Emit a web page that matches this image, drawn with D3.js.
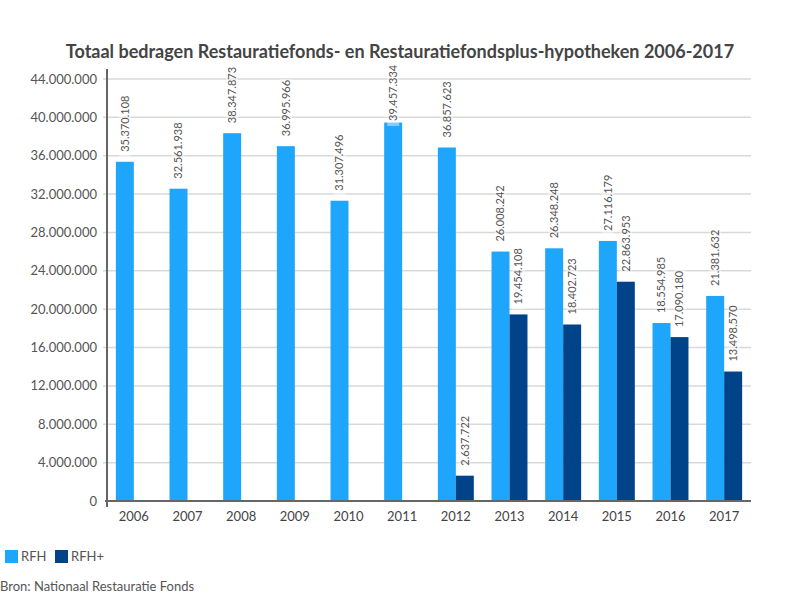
<!DOCTYPE html>
<html><head><meta charset="utf-8">
<script src="https://cdn.jsdelivr.net/npm/d3@7"></script>
<style>body{margin:0;background:#fff;} svg{display:block;font-family:Lato, sans-serif;}</style>
</head><body>
<svg id="c" width="800" height="600"></svg>
<script>
const years = ["2006","2007","2008","2009","2010","2011","2012","2013","2014","2015","2016","2017"];
const rfh = [35370108,32561938,38347873,36995966,31307496,39457334,36857623,26008242,26348248,27116179,18554985,21381632];
const rfhPlus = [null,null,null,null,null,null,2637722,19454108,18402723,22863953,17090180,13498570];
const yTicks = [0,4000000,8000000,12000000,16000000,20000000,24000000,28000000,32000000,36000000,40000000,44000000];
const seriesNames = ["RFH","RFH+"];
const colors = ["#1ea5fc","#004388"];

const svg = d3.select("#c");
const m = {left:107, right:751, top:79, bottom:501};
const x = d3.scaleBand().domain(years).range([m.left,m.right]).paddingInner(0.33).paddingOuter(0.165);
const xs = d3.scaleBand().domain(seriesNames).range([0,x.bandwidth()]);
const y = d3.scaleLinear().domain([0,44000000]).range([m.bottom,m.top]);
const fmt = v => d3.format(",")(v).replace(/,/g,".");

// title
svg.append("text").attr("x",400).attr("y",58).attr("text-anchor","middle")
  .attr("font-size",18).attr("font-weight","bold").attr("fill","#444")
  .text("Totaal bedragen Restauratiefonds- en Restauratiefondsplus-hypotheken 2006-2017");

// grid
svg.append("g").selectAll("line").data(yTicks.filter(d=>d>0)).join("line")
  .attr("x1",m.left-4).attr("x2",m.right).attr("y1",d=>y(d)).attr("y2",d=>y(d))
  .attr("stroke","#d9d9d9").attr("stroke-width",1.5);

// y labels
svg.append("g").selectAll("text").data(yTicks).join("text")
  .attr("x",97).attr("y",d=>y(d)).attr("dy","0.35em").attr("text-anchor","end")
  .attr("font-size",13).attr("fill","#555").text(d=>fmt(d));

// bars
const data = years.map((yr,i)=>({yr, vals:[{s:"RFH",v:rfh[i]},{s:"RFH+",v:rfhPlus[i]}]}));
const g = svg.append("g").selectAll("g").data(data).join("g").attr("transform",d=>`translate(${x(d.yr)},0)`);
const items = g.selectAll("g").data(d=>d.vals.filter(e=>e.v!=null)).join("g");
items.append("rect").attr("x",d=>xs(d.s)).attr("width",xs.bandwidth())
  .attr("y",d=>y(d.v)).attr("height",d=>m.bottom-y(d.v))
  .attr("fill",d=>colors[seriesNames.indexOf(d.s)]);
const lab = items.append("g").attr("transform",d=>`translate(${xs(d.s)+xs.bandwidth()/2},${Math.max(y(d.v)-10,121)}) rotate(-90)`);
lab.append("rect").attr("x",-5).attr("y",-6).attr("width",62).attr("height",12).attr("fill","#fff").attr("opacity",0.45);
lab.append("text").attr("x",0).attr("y",0).attr("dy","0.35em").attr("font-size",11).attr("fill","#555")
  .text(d=>fmt(d.v));

// axes lines
svg.append("line").attr("x1",m.left).attr("x2",m.left).attr("y1",m.top-10).attr("y2",m.bottom+6).attr("stroke","#666").attr("stroke-width",2);
svg.append("line").attr("x1",m.left-2).attr("x2",m.right).attr("y1",m.bottom).attr("y2",m.bottom).attr("stroke","#666").attr("stroke-width",2);

// x labels
svg.append("g").selectAll("text").data(years).join("text")
  .attr("x",d=>x(d)+x.bandwidth()/2).attr("y",521).attr("text-anchor","middle")
  .attr("font-size",13).attr("fill","#444").text(d=>d);

// legend
const lg = svg.append("g");
const lx = [5,55];
seriesNames.forEach((s,i)=>{
  lg.append("rect").attr("x",lx[i]).attr("y",550).attr("width",13).attr("height",13).attr("fill",colors[i]);
  lg.append("text").attr("x",lx[i]+16).attr("y",561).attr("font-size",13).attr("fill","#555").text(s);
});
svg.append("text").attr("x",0).attr("y",591).attr("font-size",13).attr("fill","#555").text("Bron: Nationaal Restauratie Fonds");
</script>
</body></html>
